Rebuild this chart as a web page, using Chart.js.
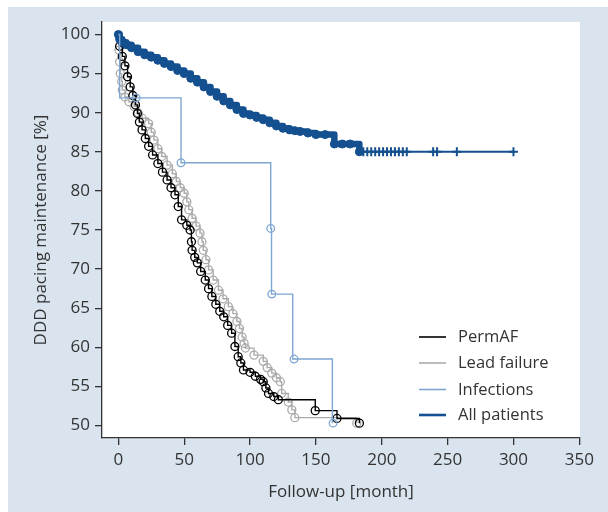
<!DOCTYPE html>
<html>
<head>
<meta charset="utf-8">
<script src="https://cdn.jsdelivr.net/npm/chart.js@4.4.1/dist/chart.umd.min.js"></script>
<style>
html,body{margin:0;padding:0;background:#fff;}
#wrap{position:absolute;left:0;top:0;width:608px;height:512px;}
</style>
</head>
<body>
<div id="wrap"><canvas id="c" width="608" height="512"></canvas></div>
<script>
// ---- data ----
const xTicks = [0, 50, 100, 150, 200, 250, 300, 350];
const yTicks = [50, 55, 60, 65, 70, 75, 80, 85, 90, 95, 100];
const seriesLabels = ['PermAF', 'Lead failure', 'Infections', 'All patients'];

const permAFMonths = [0,1,3,5,7,9,11,13,14.5,16,18,20.5,23,26,30,33.5,37,40,43,45.5,48,52,54.5,55.5,56,58,60,62.5,66,68.5,71,74,77,80,83,86,88.5,91,93,95,100,104,108,110,112,114,118,121.5,149.5,166,183];
const permAFValues = [100,98.5,97.2,96.0,94.6,93.3,92.2,91.0,89.9,88.8,87.8,86.7,85.7,84.6,83.5,82.4,81.4,80.4,79.5,78.0,76.3,75.6,75.0,73.5,72.4,71.5,70.8,69.7,68.6,67.5,66.5,65.5,64.6,63.9,62.8,61.8,60.1,58.8,58.0,57.1,56.8,56.3,55.9,55.6,54.8,54.1,53.7,53.3,51.9,50.9,50.3];

const leadMonths = [0,0.5,1,1.5,2.5,3,5,8,12,15,18,23,25,27,30,33,37,41,44,47,50,52,53.5,56,59,62,63.5,64.5,66.5,68.5,72,76,79.5,83.5,87,90,92,94,95.5,96.5,103,110,113,116.5,120,123,124,129,131.7,134,181];
const leadValues = [100,98.0,96.5,95.0,94.0,92.9,92.0,91.4,90.8,90.0,89.3,88.6,87.5,86.5,85.4,84.4,83.3,82.2,81.2,80.4,79.7,78.6,77.6,76.5,75.5,74.6,73.5,72.4,71.2,69.9,68.6,67.3,66.2,65.2,64.3,63.3,62.4,61.3,60.5,59.9,59.0,58.2,57.4,56.7,56.1,55.6,54.1,53.0,52.0,51.0,50.3];

const infMonths = [0, 1, 47.6, 115.7, 116.3, 132.4, 162.5];
const infValues = [100, 91.9, 83.6, 75.2, 66.8, 58.5, 50.3];
const infCensorMonths = [13.5, 47.6, 115.7, 116.5, 133.4, 163];
const infCensorValues = [91.9, 83.6, 75.2, 66.8, 58.5, 50.3];

const allMonths = [0,1,3,6,10,15,20,25,30,35,40,45,50,55,60,65,70,75,80,85,90,95,100,105,110,115,120,125,130,134,138,144,150,157,164,170,176,183,300];
const allValues = [100,99.4,99.0,98.7,98.3,97.8,97.4,97.1,96.7,96.3,95.9,95.4,95.0,94.4,93.9,93.3,92.7,92.1,91.5,91.0,90.4,89.9,89.7,89.4,89.1,88.7,88.3,88.0,87.8,87.7,87.6,87.4,87.2,87.2,86.0,86.0,86.0,85.0,85.0];
const allCensorMonths = [186,189,192,195,198,201,204,207,210,213,216,219,239,242,257,300];
const allCensorValues = [85,85,85,85,85,85,85,85,85,85,85,85,85,85,85,85];

// ---- helpers ----
const pts = (xs, ys) => xs.map((x, i) => ({x: x, y: ys[i]}));
const FONT = "'Open Sans', 'DejaVu Sans', sans-serif";
const TXT = '#333333';
const C_PERM = '#000000', C_LEAD = '#ababab', C_INF = '#7ea6d2', C_ALL = '#14508f';

const bgPlugin = {
  id: 'bg',
  beforeDraw(chart) {
    const ctx = chart.ctx, a = chart.chartArea;
    ctx.save();
    ctx.fillStyle = '#ffffff';
    ctx.fillRect(0, 0, chart.width, chart.height);
    ctx.fillStyle = '#dae4ee';
    ctx.fillRect(8, 7, chart.width - 8, chart.height - 7);
    ctx.fillStyle = '#ffffff';
    ctx.fillRect(a.left, a.top, a.right - a.left, a.bottom - a.top);
    ctx.restore();
  }
};

const legendPlugin = {
  id: 'kmLegend',
  afterDraw(chart) {
    const ctx = chart.ctx;
    const rows = [337, 363, 389.5, 415];
    const widths = [1.6, 1.6, 1.6, 2.6];
    ctx.save();
    ctx.font = '16.5px ' + FONT;
    ctx.textBaseline = 'middle';
    ctx.textAlign = 'left';
    chart.data.datasets.filter(d => d.legendItem).forEach((d, i) => {
      ctx.strokeStyle = d.borderColor;
      ctx.lineWidth = widths[i];
      ctx.beginPath();
      ctx.moveTo(419, rows[i]);
      ctx.lineTo(446, rows[i]);
      ctx.stroke();
      ctx.fillStyle = TXT;
      ctx.fillText(d.label, 458, rows[i] + 0.5);
    });
    ctx.restore();
  }
};

new Chart(document.getElementById('c'), {
  type: 'scatter',
  data: {
    datasets: [
      {
        label: seriesLabels[0], legendItem: true, type: 'line', order: 2,
        data: pts(permAFMonths, permAFValues), stepped: true,
        borderColor: C_PERM, borderWidth: 1.4, fill: false,
        pointStyle: 'circle', pointRadius: ctx => ctx.dataIndex === 0 ? 0 : 4,
        pointBorderColor: C_PERM, pointBackgroundColor: 'rgba(0,0,0,0)', pointBorderWidth: 1.3
      },
      {
        label: seriesLabels[1], legendItem: true, type: 'line', order: 3,
        data: pts(leadMonths, leadValues), stepped: true,
        borderColor: C_LEAD, borderWidth: 1.4, fill: false,
        pointStyle: 'circle', pointRadius: ctx => ctx.dataIndex === 0 ? 0 : 4,
        pointBorderColor: C_LEAD, pointBackgroundColor: 'rgba(0,0,0,0)', pointBorderWidth: 1.3
      },
      {
        label: seriesLabels[2], legendItem: true, type: 'line', order: 0,
        data: pts(infMonths, infValues), stepped: true,
        borderColor: C_INF, borderWidth: 1.4, fill: false, pointRadius: 0
      },
      {
        label: seriesLabels[3], legendItem: true, type: 'line', order: 1,
        data: pts(allMonths, allValues), stepped: true,
        borderColor: C_ALL, borderWidth: 2, fill: false,
        borderJoinStyle: 'round', borderCapStyle: 'round',
        segment: { borderWidth: ctx => ctx.p0.parsed.x >= 183 ? 2 : 6.5 },
        pointStyle: 'circle', pointRadius: ctx => (ctx.raw && ctx.raw.x > 190) ? 0 : 4,
        pointBorderColor: C_ALL, pointBackgroundColor: C_ALL, pointBorderWidth: 1
      },
      {
        label: 'Infections censored', type: 'scatter', order: 0,
        data: pts(infCensorMonths, infCensorValues), showLine: false,
        pointStyle: 'circle', pointRadius: 3.8, pointBorderWidth: 1.3,
        pointBorderColor: C_INF, pointBackgroundColor: 'rgba(0,0,0,0)'
      },
      {
        label: 'All patients censored', type: 'scatter', order: 1,
        data: pts(allCensorMonths, allCensorValues), showLine: false,
        pointStyle: 'cross', pointRadius: 4.5, pointBorderWidth: 2,
        pointBorderColor: C_ALL, pointBackgroundColor: C_ALL
      }
    ]
  },
  options: {
    responsive: false,
    animation: false,
    devicePixelRatio: 1,
    layout: { padding: { left: 8, top: 22, right: 28, bottom: 0 } },
    plugins: { legend: { display: false }, tooltip: { enabled: false } },
    scales: {
      x: {
        type: 'linear', position: 'bottom', min: -12.4, max: 350.5,
        afterBuildTicks: s => { s.ticks = xTicks.map(v => ({value: v})); },
        afterFit: s => { s.height = 74; },
        ticks: { color: TXT, font: { family: FONT, size: 17 }, padding: 5, maxRotation: 0, autoSkip: false },
        grid: { drawOnChartArea: false, drawTicks: true, tickLength: 7, color: '#333', lineWidth: 1.3 },
        border: { display: true, color: '#333', width: 1.3 },
        title: { display: true, text: 'Follow-up [month]', color: TXT, font: { family: FONT, size: 17 }, padding: { top: 0, bottom: 10 } }
      },
      y: {
        type: 'linear', position: 'left', min: 48.4, max: 101.6,
        afterBuildTicks: s => { s.ticks = yTicks.map(v => ({value: v})); },
        afterFit: s => { s.width = 94; },
        ticks: { color: TXT, font: { family: FONT, size: 17 }, padding: 5, autoSkip: false },
        grid: { drawOnChartArea: false, drawTicks: true, tickLength: 7, color: '#333', lineWidth: 1.3 },
        border: { display: true, color: '#333', width: 1.3 },
        title: { display: true, text: 'DDD pacing maintenance [%]', color: TXT, font: { family: FONT, size: 17 }, padding: { top: 23, bottom: 0 } }
      }
    }
  },
  plugins: [bgPlugin, legendPlugin]
});
</script>
</body>
</html>
